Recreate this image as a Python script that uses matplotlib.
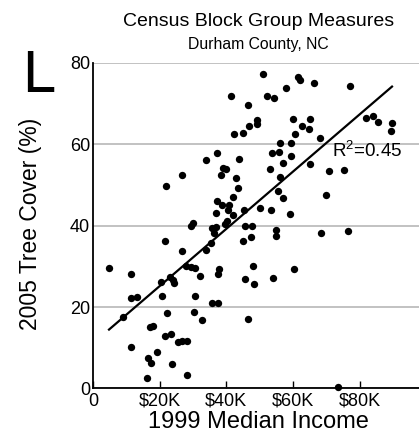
import matplotlib
matplotlib.use("Agg")
import matplotlib.pyplot as plt

plt.rcParams['font.family'] = ['Liberation Sans', 'DejaVu Sans']
plt.rcParams['mathtext.fontset'] = 'custom'
plt.rcParams['mathtext.rm'] = 'Liberation Sans'

# 1999 median income (thousands of $) and 2005 tree cover (%) per block group
income = [41.4, 46.5, 46.9, 44.9, 42.4, 37.2, 33.9, 43.7, 39.1, 39.9,
          26.8, 38.5, 43.0, 43.6, 42.1, 50.9, 61.6, 62.1, 66.4, 77.0,
          57.9, 52.1, 54.3, 49.1, 49.3, 60.1, 65.1, 62.6, 64.7, 60.6,
          68.2, 81.9, 84.0, 85.4, 89.7, 89.4, 56.0, 59.3, 53.7, 55.8,
          59.3, 57.1, 65.1, 53.0, 70.7, 75.4, 56.1, 55.6, 57.1, 69.9,
          22.0, 37.3, 38.8, 40.8, 40.4, 36.9, 42.0, 45.4, 40.1, 39.6,
          36.8, 35.7, 36.3, 29.9, 29.3, 45.6, 47.8, 21.7, 35.4, 45.0,
          47.3, 26.7, 33.9, 4.8, 11.4, 27.9, 29.3, 30.7, 32.0, 37.8,
          37.4, 23.1, 23.9, 20.3, 24.3, 45.6, 47.9, 48.3, 50.1, 53.4,
          59.1, 54.9, 54.9, 68.5, 76.4, 60.3, 53.9, 11.3, 13.1, 8.9,
          17.1, 18.1, 11.3, 19.1, 16.6, 17.3, 23.6, 16.1, 28.1, 21.6,
          23.3, 25.6, 26.7, 28.1, 20.8, 22.1, 30.7, 30.3, 32.8, 35.6,
          37.5, 46.4, 73.5]
tree_cover = [71.8, 69.7, 64.4, 62.7, 62.5, 57.9, 56.1, 56.4, 54.2, 53.8,
              52.4, 52.4, 51.6, 49.3, 47.1, 77.2, 76.5, 75.7, 75.1, 74.3,
              73.8, 71.9, 71.4, 65.9, 64.9, 66.3, 66.1, 64.5, 63.7, 62.5,
              61.6, 66.5, 66.9, 65.5, 65.2, 63.3, 60.2, 60.2, 57.9, 58.1,
              57.1, 55.4, 55.1, 54.0, 53.4, 53.7, 52.0, 48.4, 46.7, 47.6,
              49.8, 46.1, 45.1, 45.1, 43.9, 43.0, 42.5, 43.9, 41.2, 40.4,
              39.6, 39.4, 38.1, 40.6, 39.9, 40.0, 40.0, 36.2, 35.7, 36.2,
              37.3, 33.7, 33.9, 29.6, 28.1, 30.2, 29.9, 29.6, 27.6, 29.4,
              28.1, 27.5, 26.7, 26.2, 25.8, 26.9, 30.2, 25.6, 44.3, 43.9,
              42.9, 38.9, 37.5, 38.3, 38.7, 29.4, 27.1, 22.2, 22.5, 17.6,
              15.0, 15.4, 10.3, 8.9, 7.4, 6.2, 6.0, 2.7, 3.3, 13.0,
              13.4, 11.5, 11.7, 11.7, 22.7, 18.6, 22.6, 18.7, 16.9, 20.9,
              20.9, 17.1, 0.4]

# fitted line
fit_intercept = 11.1
fit_slope = 0.703
r_squared = 0.45

x_ticks = [0, 20, 40, 60, 80]
x_labels = ['0', '$20K', '$40K', '$60K', '$80K']
y_ticks = [0, 20, 40, 60, 80]

fig = plt.figure(figsize=(4.19, 4.32), dpi=100)
ax = fig.add_axes([0.222, 0.1007, 0.778, 0.7539])

ax.scatter(income, tree_cover, s=28, color='black', linewidths=0,
           clip_on=False, zorder=3)

x0, x1 = min(income), max(income)
ax.plot([x0, x1], [fit_intercept + fit_slope * x0, fit_intercept + fit_slope * x1],
        color='black', lw=1.6, zorder=4)
ax.text(71.8, 56.9, r'R$^{2}$=%.2f' % r_squared, fontsize=13.5, va='baseline')

ax.set_xlim(0, 97.8)
ax.set_ylim(0, 80)
ax.set_xticks(x_ticks)
ax.set_xticklabels(x_labels, fontsize=13)
ax.set_yticks(y_ticks)
ax.set_yticklabels([str(v) for v in y_ticks], fontsize=13)
ax.tick_params(axis='x', direction='in', length=5, width=1, pad=3)
ax.tick_params(axis='y', length=0, pad=2)
ax.yaxis.grid(True, color='#b8b8b8', lw=1.2)
ax.set_axisbelow(True)
for s in ['top', 'right']:
    ax.spines[s].set_visible(False)
ax.spines['left'].set_linewidth(1.3)
ax.spines['bottom'].set_linewidth(1.3)

fig.text(0.616, 1 - 22 / 432, 'Census Block Group Measures', fontsize=14,
         ha='center', va='center')
fig.text(0.616, 1 - 44 / 432, 'Durham County, NC', fontsize=11.3,
         ha='center', va='center')
fig.text(22 / 419, 1 - 92 / 432, 'L', fontsize=43, ha='left', va='baseline')
fig.text(30 / 419, 1 - 224 / 432, '2005 Tree Cover (%)', fontsize=16.5,
         rotation=90, ha='center', va='center')
fig.text(0.617, 1 - 411 / 432, '1999 Median Income', fontsize=17,
         ha='center', va='top')

fig.savefig('out.png', dpi=100)
